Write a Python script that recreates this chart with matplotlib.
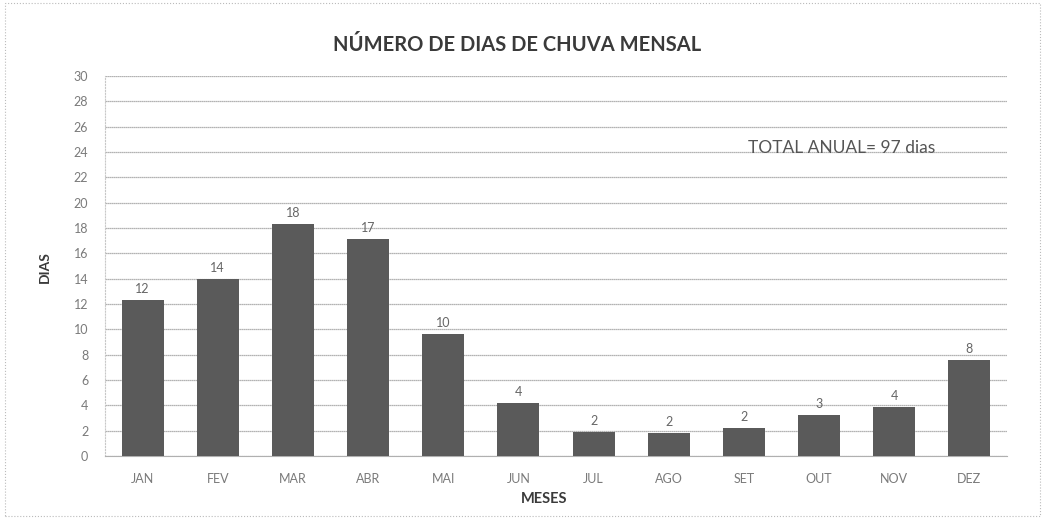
import numpy as np
import matplotlib
matplotlib.use('Agg')
import matplotlib.pyplot as plt
from matplotlib.patches import Rectangle

months = ['JAN', 'FEV', 'MAR', 'ABR', 'MAI', 'JUN', 'JUL', 'AGO', 'SET', 'OUT', 'NOV', 'DEZ']
rain_days = [12.3, 14.0, 18.3, 17.1, 9.6, 4.2, 1.9, 1.8, 2.2, 3.2, 3.9, 7.6]
y_ticks = list(range(0, 31, 2))
total_text = 'TOTAL ANUAL= 97 dias'

plt.rcParams['font.family'] = ['Lato', 'DejaVu Sans']

fig = plt.figure(figsize=(10.45, 5.19), dpi=100)
ax = fig.add_axes([0.1005, 0.1214, 0.8631, 0.7322])

x = np.arange(len(months))
ax.bar(x, rain_days, width=0.56, color='#5a5a5a', zorder=3)
for xi, v in zip(x, rain_days):
    ax.text(xi, v + 0.4, f'{v:.0f}', ha='center', va='bottom', fontsize=9, color='#666666')

ax.set_xlim(-0.5, len(months) - 0.5)
ax.set_ylim(0, 30)
ax.set_yticks(y_ticks)
ax.set_xticks(x)
ax.set_xticklabels(months)
ax.tick_params(axis='both', length=0, labelsize=9, labelcolor='#7a7a7a')
ax.tick_params(axis='x', pad=12)
ax.tick_params(axis='y', pad=12)
ax.yaxis.grid(True, color='#9a9a9a', linewidth=0.9, linestyle=(0, (1, 0.6)), zorder=0)
for s in ax.spines.values():
    s.set_visible(False)
ax.spines['left'].set_visible(True)
ax.spines['left'].set_color('#c8c8c8')
ax.spines['left'].set_linestyle(':')
ax.spines['bottom'].set_visible(True)
ax.spines['bottom'].set_color('#b0b0b0')

# annual total note, upper right
ax.text(8.05, 24.3, total_text, fontsize=12.5, color='#555555', va='center')

fig.text(0.495, 0.913, 'NÚMERO DE DIAS DE CHUVA MENSAL', ha='center', va='center',
         fontsize=14.5, fontweight='bold', color='#3a3a3a')
fig.text(0.043, 0.485, 'DIAS', rotation=90, ha='center', va='center',
         fontsize=10, fontweight='bold', color='#3a3a3a')
fig.text(0.521, 0.038, 'MESES', ha='center', va='center',
         fontsize=10.5, fontweight='bold', color='#3a3a3a')

fig.patches.append(Rectangle((0.005, 0.005), 0.99, 0.99, transform=fig.transFigure,
                             fill=False, edgecolor='#bbbbbb', linestyle=':', linewidth=0.8))

plt.savefig('out.png', dpi=100)
